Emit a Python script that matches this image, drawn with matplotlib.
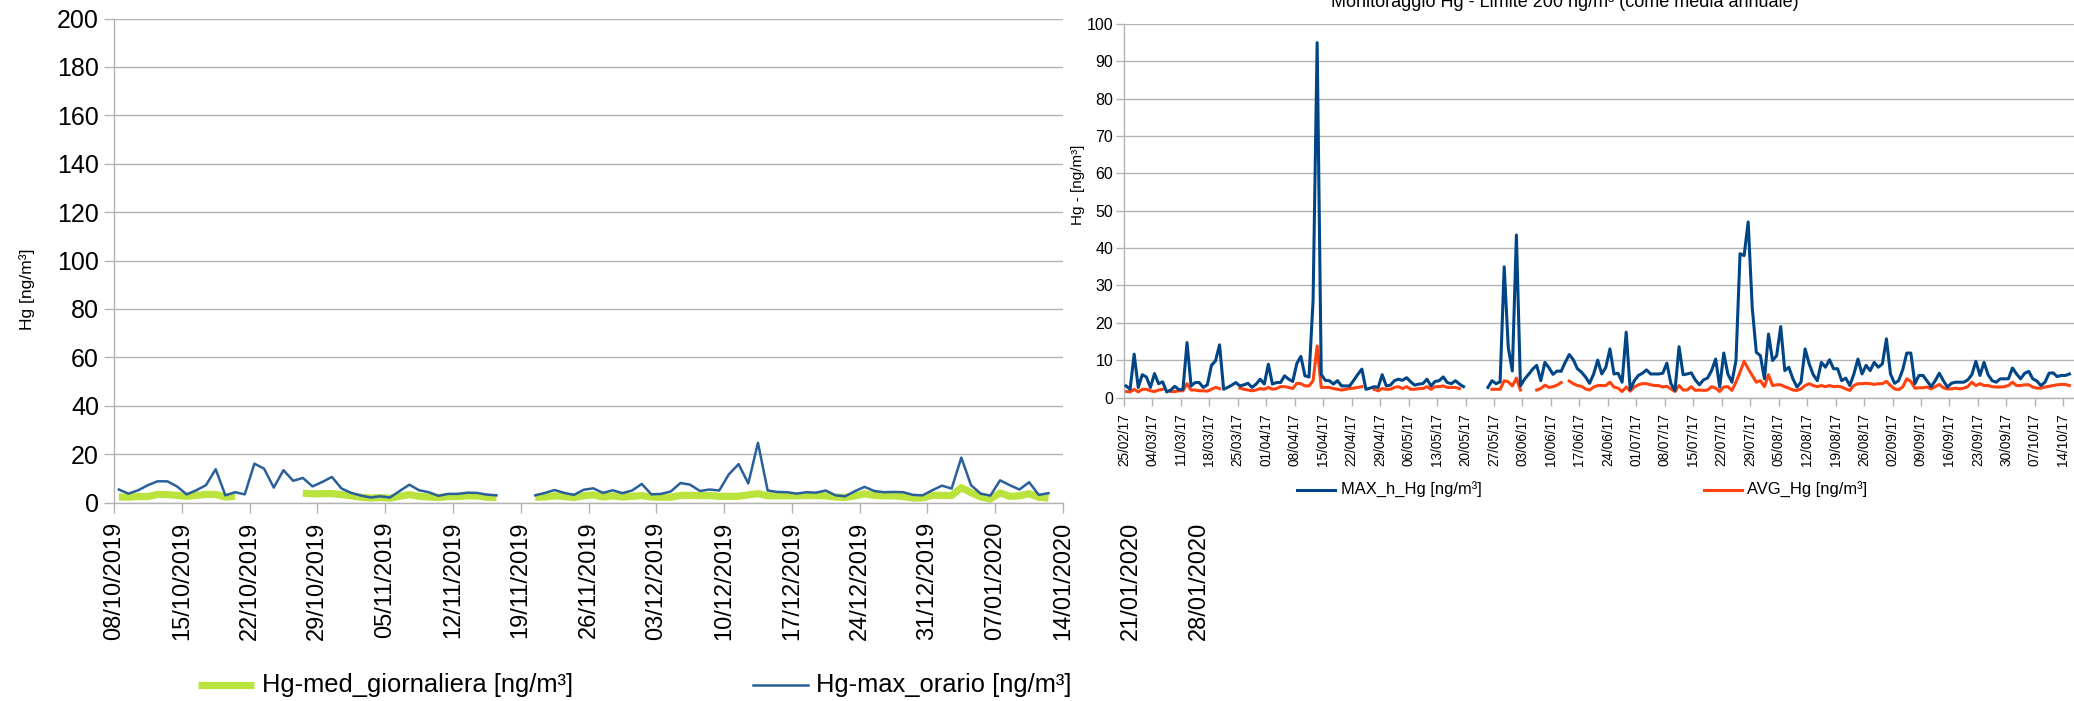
import matplotlib
matplotlib.use('Agg')
import matplotlib.pyplot as plt
import matplotlib.dates as mdates
import matplotlib.transforms as mtransforms
from matplotlib.lines import Line2D
import numpy as np
import pandas as pd

plt.rcParams['font.family'] = ['Liberation Sans', 'DejaVu Sans']

# ---------------- data: left chart (daily, from 08/10/2019) ----------------
left_start = '2019-10-08'
left_end = '2020-01-14'
left_label_end = '2020-01-28'
left_max = [5.4, 3.7, 5.1, 7.2, 8.8, 8.8, 6.7, 3.4, 5.1, 7.2,
            13.8, 3.0, 4.3, 3.4, 16.1, 14.0, 6.2, 13.4, 9.0, 10.2,
            6.7, 8.5, 10.6, 5.8, 4.0, 2.9, 2.1, 2.6, 2.1, 4.8,
            7.4, 5.1, 4.3, 2.8, 3.6, 3.6, 4.1, 4.0, 3.3, 3.0,
            None, None, None, 3.0, 4.0, 5.2, 4.0, 3.2, 5.3, 5.9,
            4.0, 5.1, 3.9, 5.0, 7.7, 3.4, 3.6, 4.6, 8.1, 7.4,
            4.8, 5.4, 5.0, 11.7, 15.9, 7.9, 24.7, 5.0, 4.4, 4.3,
            3.7, 4.3, 4.1, 5.0, 3.0, 2.6, 4.7, 6.5, 4.8, 4.3,
            4.4, 4.3, 3.2, 3.0, 5.1, 7.0, 5.8, 18.6, 7.2, 3.7,
            2.9, 9.2, 7.2, 5.4, 8.4, 3.2, 3.9]
left_med = [2.3, 2.3, 2.5, 2.5, 3.4, 3.3, 3.0, 2.6, 3.0, 3.4,
            3.4, 2.3, 2.6, None, None, None, None, None, None, 3.9,
            3.6, 3.7, 3.7, 3.3, 2.8, 2.2, 1.9, 2.1, 1.8, 2.6,
            3.3, 2.6, 2.3, 2.1, 2.5, 2.5, 2.8, 2.8, 2.2, 2.1,
            None, None, None, 2.2, 2.3, 2.8, 2.5, 2.1, 2.8, 3.2,
            2.3, 2.8, 2.3, 2.6, 2.9, 2.3, 2.2, 2.2, 3.0, 3.0,
            2.9, 2.9, 2.6, 2.6, 2.6, 3.2, 3.7, 2.8, 2.8, 2.8,
            2.8, 2.9, 2.9, 2.8, 2.3, 2.1, 2.8, 3.6, 3.0, 2.8,
            2.8, 2.5, 1.9, 1.9, 3.0, 3.0, 2.9, 6.2, 4.1, 2.3,
            1.5, 4.0, 2.6, 2.8, 3.7, 2.2, 1.9]
left_y_ticks = list(range(0, 201, 20))
left_labels = ['Hg-med_giornaliera [ng/m³]', 'Hg-max_orario [ng/m³]']

# ---------------- data: right chart (daily, from 25/02/2017) ----------------
right_start = '2017-02-25'
right_last_tick = '2017-10-14'
right_max = [3.1, 2.2, 11.6, 2.7, 6.1, 5.5, 2.7, 6.4, 3.7, 4.2,
             1.5, 2.0, 3.0, 2.1, 2.2, 14.7, 3.1, 4.0, 4.0, 2.7,
             3.4, 8.6, 9.8, 14.1, 2.2, 2.7, 3.3, 4.0, 3.1, 3.4,
             3.8, 2.7, 3.6, 4.9, 3.6, 8.9, 3.6, 4.0, 4.0, 5.8,
             4.9, 4.3, 9.1, 11.0, 5.8, 5.5, 26.0, 95.0, 6.2, 4.6,
             4.5, 3.6, 4.5, 3.1, 3.1, 3.1, 4.6, 6.2, 7.6, 2.2,
             2.5, 2.9, 2.7, 6.1, 3.1, 3.3, 4.5, 4.9, 4.6, 5.3,
             4.2, 3.3, 3.6, 3.7, 4.9, 3.1, 4.3, 4.5, 5.5, 4.0,
             3.7, 4.5, 3.6, 2.9, None, None, None, None, None, 2.7,
             4.5, 3.7, 4.2, 35.0, 13.4, 7.1, 43.5, 3.1, 4.9, 6.2,
             7.6, 8.6, 4.5, 9.4, 8.0, 6.2, 7.1, 7.0, 9.4, 11.5,
             10.1, 7.7, 6.8, 5.5, 3.8, 6.3, 10.0, 6.3, 8.1, 13.0,
             6.3, 6.5, 4.1, 17.5, 2.1, 4.5, 5.9, 6.5, 7.4, 6.3,
             6.3, 6.3, 6.5, 9.2, 3.7, 1.9, 13.6, 6.1, 6.3, 6.6,
             4.7, 3.4, 4.7, 5.2, 7.2, 10.3, 2.8, 11.9, 6.3, 4.1,
             9.9, 38.5, 38.0, 47.0, 24.0, 12.1, 11.2, 5.0, 17.0, 9.9,
             11.2, 19.0, 7.2, 8.1, 5.0, 2.8, 4.1, 13.0, 9.0, 6.1,
             4.5, 9.4, 8.1, 10.1, 7.7, 7.7, 4.5, 5.2, 3.2, 6.3,
             10.3, 6.3, 8.6, 7.2, 9.4, 8.1, 9.0, 15.7, 6.3, 3.8,
             4.5, 7.4, 11.9, 11.9, 3.7, 5.9, 5.9, 4.4, 2.9, 4.5,
             6.5, 4.5, 2.8, 3.8, 4.1, 4.1, 4.1, 4.7, 6.1, 9.7,
             5.9, 9.4, 6.1, 4.5, 4.1, 5.0, 5.0, 5.0, 7.9, 6.3,
             5.0, 6.5, 7.0, 5.0, 4.4, 3.2, 4.1, 6.5, 6.6, 5.6,
             5.9, 5.9, 6.3]
right_avg = [1.6, 1.5, 2.2, 1.5, 2.2, 2.2, 1.8, 1.6, 2.0, 2.2,
             None, 1.6, 1.6, 1.8, 1.8, 3.7, 2.0, 2.0, 1.8, 1.8,
             1.7, 2.2, 2.7, 2.4, None, None, None, None, 2.5, 2.2,
             2.0, 1.8, 2.0, 2.4, 2.2, 2.7, 2.2, 2.4, 2.9, 2.9,
             2.7, 2.4, 3.8, 3.7, 3.1, 3.1, 4.5, 13.8, 2.7, 2.7,
             2.7, 2.4, 2.2, 2.0, 2.2, 2.4, 2.5, 2.7, 2.9, None,
             None, 2.2, 1.8, 2.4, 2.2, 2.2, 2.7, 2.9, 2.4, 2.9,
             2.2, 2.2, 2.4, 2.4, 2.9, 2.2, 2.9, 2.9, 3.1, 2.7,
             2.7, 2.7, 2.4, None, None, None, None, None, None, None,
             2.2, 2.2, 2.2, 4.5, 4.2, 3.1, 5.2, 2.0, None, None,
             None, 2.0, 2.4, 3.3, 2.7, 2.9, 3.3, 4.0, None, 4.4,
             3.7, 3.2, 3.0, 2.3, 2.0, 2.8, 3.2, 3.2, 3.2, 4.1,
             2.8, 2.5, 1.6, 2.8, 1.7, 2.8, 3.4, 3.7, 3.7, 3.4,
             3.2, 3.2, 2.8, 3.0, 2.3, 1.6, 3.2, 2.0, 2.0, 2.9,
             1.9, 2.0, 1.9, 2.0, 2.9, 2.5, 1.6, 2.8, 2.9, 1.9,
             4.1, 6.8, 9.7, 7.7, 5.9, 4.1, 4.5, 2.9, 6.1, 3.2,
             3.4, 3.4, 2.9, 2.5, 2.0, 1.9, 2.3, 3.2, 3.7, 3.2,
             2.9, 3.2, 2.9, 3.2, 2.9, 3.0, 2.8, 2.3, 1.9, 3.2,
             3.7, 3.7, 3.8, 3.7, 3.5, 3.7, 3.7, 4.3, 3.2, 2.3,
             2.1, 2.8, 5.0, 4.3, 2.5, 2.6, 2.6, 2.8, 2.3, 2.9,
             3.5, 2.6, 2.3, 2.3, 2.5, 2.3, 2.5, 2.9, 4.1, 3.2,
             3.7, 3.2, 3.2, 2.9, 2.8, 2.8, 2.9, 3.2, 4.1, 3.2,
             3.2, 3.4, 3.4, 2.8, 2.5, 2.5, 2.8, 3.0, 3.2, 3.4,
             3.5, 3.5, 3.2]
right_y_ticks = list(range(0, 101, 10))
right_labels = ['MAX_h_Hg [ng/m³]', 'AVG_Hg [ng/m³]']
right_title = 'Monitoraggio Hg - Limite 200 ng/m³ (come media annuale)'

# ---------------- styling ----------------
W, H = 2074, 701
GRID = '#b3b3b3'
GREEN = '#bbe33d'
LBLUE = '#2a6099'
RBLUE = '#004586'
ORANGE = '#ff420e'

fig = plt.figure(figsize=(W / 100, H / 100), dpi=100)


def box(x0, y_top, x1, y_bot):
    return [x0 / W, 1 - y_bot / H, (x1 - x0) / W, (y_bot - y_top) / H]


def style_axes(ax):
    for s in ('top', 'right'):
        ax.spines[s].set_visible(False)
    for s in ('left', 'bottom'):
        ax.spines[s].set_color(GRID)
        ax.spines[s].set_linewidth(1.0)
    ax.yaxis.grid(True, color=GRID, lw=1.0)
    ax.set_axisbelow(True)


# ---------------- left chart ----------------
axL = fig.add_axes(box(114, 18.5, 1063, 502.6))
style_axes(axL)
dL = mdates.date2num(pd.date_range(left_start, periods=len(left_max), freq='D')) + 0.5
axL.plot(dL, np.array(left_med, dtype=float), color=GREEN, lw=5.2,
         solid_capstyle='butt', solid_joinstyle='round', zorder=2)
axL.plot(dL, np.array(left_max, dtype=float), color=LBLUE, lw=1.8, zorder=3)
axL.set_ylim(0, 200)
axL.set_yticks(left_y_ticks)
axL.set_xlim(mdates.date2num(pd.Timestamp(left_start)), mdates.date2num(pd.Timestamp(left_end)))
all_ticks = pd.date_range(left_start, left_label_end, freq='7D')
in_ticks = all_ticks[all_ticks <= pd.Timestamp(left_end)]
out_ticks = all_ticks[all_ticks > pd.Timestamp(left_end)]
axL.set_xticks(mdates.date2num(in_ticks))
axL.set_xticklabels([t.strftime('%d/%m/%Y') for t in in_ticks], rotation=90)
axL.tick_params(axis='x', direction='out', length=7.2, width=1, color=GRID,
                pad=6.3, labelsize=17)
axL.tick_params(axis='y', direction='out', length=7.2, width=1, color=GRID,
                pad=3.6, labelsize=18)
off = mtransforms.offset_copy(axL.get_xaxis_transform(), fig=fig, x=0, y=-(7.2 + 6.3), units='points')
for t in out_ticks:
    axL.text(mdates.date2num(t), 0, t.strftime('%d/%m/%Y'), transform=off, rotation=90,
             ha='center', va='top', fontsize=17, clip_on=False)

fig.text(27 / W, 1 - 289 / H, 'Hg [ng/m³]', rotation=90, ha='center', va='center', fontsize=12.6)

ly = 1 - 685 / H
fig.add_artist(Line2D([198 / W, 254 / W], [ly, ly], color=GREEN, lw=5.2, solid_capstyle='butt'))
fig.text(262 / W, ly, left_labels[0], ha='left', va='center', fontsize=18.4)
fig.add_artist(Line2D([753 / W, 808 / W], [ly, ly], color=LBLUE, lw=1.8))
fig.text(816 / W, ly, left_labels[1], ha='left', va='center', fontsize=18.4)

# ---------------- right chart ----------------
axR = fig.add_axes(box(1124, 24, 2074, 397.5))
style_axes(axR)
r0 = pd.Timestamp(right_start)
dR = mdates.date2num(pd.date_range(right_start, periods=len(right_max), freq='D')) + 0.5
axR.plot(dR, np.array(right_max, dtype=float), color=RBLUE, lw=2.2, zorder=3)
axR.plot(dR, np.array(right_avg, dtype=float), color=ORANGE, lw=2.2, zorder=2)
axR.set_ylim(0, 100)
axR.set_yticks(right_y_ticks)
axR.set_xlim(mdates.date2num(r0), mdates.date2num(r0) + (2074 - 1125) / 4.062)
rt = pd.date_range(right_start, right_last_tick, freq='7D')
axR.set_xticks(mdates.date2num(rt))
axR.set_xticklabels([t.strftime('%d/%m/%y') for t in rt], rotation=90)
axR.tick_params(axis='x', direction='out', length=5.8, width=1, color=GRID,
                pad=5.5, labelsize=9.8)
axR.tick_params(axis='y', direction='out', length=5.8, width=1, color=GRID,
                pad=2, labelsize=11.5)

fig.text(1078 / W, 1 - 185 / H, 'Hg - [ng/m³]', rotation=90, ha='center', va='center', fontsize=11)
fig.text(1565 / W, 1 - 7 / H, right_title, ha='center', va='baseline', fontsize=13)

ry = 1 - 490 / H
fig.add_artist(Line2D([1297 / W, 1335 / W], [ry, ry], color=RBLUE, lw=2.2))
fig.text(1341 / W, ry, right_labels[0], ha='left', va='center', fontsize=11.9)
fig.add_artist(Line2D([1704 / W, 1742 / W], [ry, ry], color=ORANGE, lw=2.2))
fig.text(1747 / W, ry, right_labels[1], ha='left', va='center', fontsize=11.9)

fig.savefig('out.png', dpi=100, facecolor='white')
